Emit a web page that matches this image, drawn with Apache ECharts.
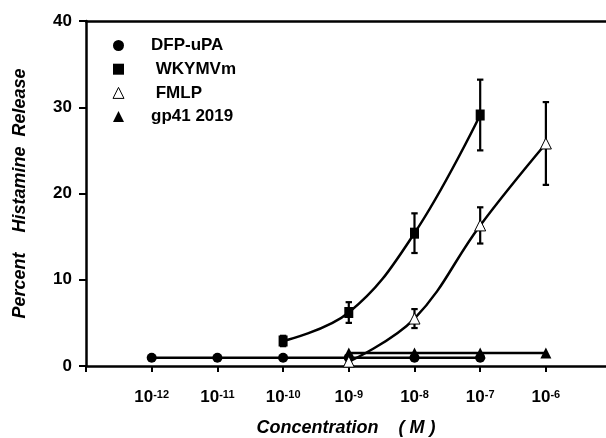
<!DOCTYPE html>
<html><head><meta charset="utf-8">
<script src="https://cdn.jsdelivr.net/npm/echarts@6/dist/echarts.min.js"></script>
<style>html,body{margin:0;padding:0;background:#fff}#c{width:606px;height:438px}</style>
</head><body><div id="c"></div>
<script>
// log10 concentration tick positions and labels
const xTickExps = [-12, -11, -10, -9, -8, -7, -6];
const yTicks = [0, 10, 20, 30, 40];

const dfpX = [-12, -11, -10, -9, -8, -7];
const dfpY = [0.95, 0.95, 0.95, 0.95, 0.95, 0.95];

const wkyX = [-10, -9, -8, -7];
const wkyY = [2.9, 6.2, 15.4, 29.1];
const wkyErr = [0.6, 1.2, 2.3, 4.1];

const fmlpX = [-9, -8, -7, -6];
const fmlpY = [0.5, 5.5, 16.3, 25.8];
const fmlpErr = [0, 1.1, 2.1, 4.8];

const gpX = [-9, -8, -7, -6];
const gpY = [1.5, 1.5, 1.5, 1.5];

const names = ['DFP-uPA', ' WKYMVm', ' FMLP', 'gp41 2019'];

const FONT = 'Arial, "Liberation Sans", sans-serif';
const zip = (xs, ys) => xs.map((x, i) => [x, ys[i]]);
const errData = (xs, ys, es) => xs.map((x, i) => [x, ys[i] - es[i], ys[i] + es[i]]).filter((d, i) => es[i] > 0);

const errSeries = (xs, ys, es) => ({
  type: 'custom',
  data: errData(xs, ys, es),
  z: 1,
  silent: true,
  renderItem: function (params, api) {
    const x = api.value(0);
    const lo = api.coord([x, api.value(1)]);
    const hi = api.coord([x, api.value(2)]);
    const w = 3.2;
    const st = { stroke: '#000', lineWidth: 2.2 };
    return {
      type: 'group',
      children: [
        { type: 'line', shape: { x1: lo[0], y1: lo[1], x2: hi[0], y2: hi[1] }, style: st },
        { type: 'line', shape: { x1: lo[0] - w, y1: lo[1], x2: lo[0] + w, y2: lo[1] }, style: st },
        { type: 'line', shape: { x1: hi[0] - w, y1: hi[1], x2: hi[0] + w, y2: hi[1] }, style: st }
      ]
    };
  }
});

const chart = echarts.init(document.getElementById('c'), null, { renderer: 'canvas' });
chart.setOption({
  animation: false,
  backgroundColor: '#fff',
  textStyle: { fontFamily: FONT },
  grid: { left: 86, top: 21, right: 0, bottom: 72, show: false, containLabel: false, outerBoundsMode: 'none' },
  legend: {
    orient: 'vertical',
    left: 112.5, top: 37, padding: 0,
    itemWidth: 11, itemHeight: 11,
    itemGap: 6.7,
    selectedMode: false,
    textStyle: { fontFamily: FONT, fontWeight: 'bold', fontSize: 17, color: '#000', lineHeight: 16, padding: [0, 0, 0, 22] },
    data: [
      { name: names[0], icon: 'circle', itemStyle: { color: '#000', borderWidth: 0 } },
      { name: names[1], icon: 'rect', itemStyle: { color: '#000', borderWidth: 0 } },
      { name: names[2], icon: 'triangle', itemStyle: { color: '#fff', borderColor: '#000', borderWidth: 1 } },
      { name: names[3], icon: 'triangle', itemStyle: { color: '#000', borderWidth: 0 } }
    ]
  },
  xAxis: [{
    type: 'value', min: -13, max: -5.085, interval: 1,
    name: 'Concentration    ( M )',
    nameLocation: 'middle', nameGap: 53,
    nameTextStyle: { fontFamily: FONT, fontWeight: 'bold', fontStyle: 'italic', fontSize: 18, color: '#000' },
    axisLine: { lineStyle: { color: '#000', width: 2.5 } },
    axisTick: { show: true, length: 6, inside: false, lineStyle: { color: '#000', width: 2 } },
    splitLine: { show: false },
    axisLabel: {
      margin: 23,
      showMaxLabel: false,
      formatter: function (v) {
        if (xTickExps.indexOf(v) < 0) return '';
        return '{b|10}{s|' + v + '}';
      },
      rich: {
        b: { fontFamily: FONT, fontWeight: 'bold', fontSize: 17, color: '#000', verticalAlign: 'bottom' },
        s: { fontFamily: FONT, fontWeight: 'bold', fontSize: 11, color: '#000', verticalAlign: 'top', padding: [0, 0, 6, 0] }
      }
    }
  }, {
    type: 'value', position: 'top', min: -13, max: -5.085,
    axisLine: { show: true, onZero: false, lineStyle: { color: '#000', width: 2.5 } },
    axisTick: { show: false }, axisLabel: { show: false }, splitLine: { show: false }
  }],
  yAxis: {
    type: 'value', min: yTicks[0], max: yTicks[yTicks.length - 1], interval: 10,
    name: 'Percent    Histamine  Release',
    nameLocation: 'middle', nameGap: 57,
    nameTextStyle: { fontFamily: FONT, fontWeight: 'bold', fontStyle: 'italic', fontSize: 18, color: '#000' },
    axisLine: { show: true, lineStyle: { color: '#000', width: 2.5 } },
    axisTick: { show: true, length: 7, inside: false, lineStyle: { color: '#000', width: 2 } },
    splitLine: { show: false },
    axisLabel: { margin: 14, fontFamily: FONT, fontWeight: 'bold', fontSize: 17, color: '#000' }
  },
  series: [
    {
      name: names[0], type: 'line', data: zip(dfpX, dfpY),
      symbol: 'circle', symbolSize: 10, z: 3,
      lineStyle: { color: '#000', width: 2.5 }, itemStyle: { color: '#000' }
    },
    {
      name: names[1], type: 'line', data: zip(wkyX, wkyY), smooth: 0.4,
      symbol: 'rect', symbolSize: [9, 11], z: 3,
      lineStyle: { color: '#000', width: 2.5 }, itemStyle: { color: '#000' }
    },
    {
      name: names[2], type: 'line', data: zip(fmlpX, fmlpY), smooth: 0.4,
      symbol: 'triangle', symbolSize: 11, z: 4,
      lineStyle: { color: '#000', width: 2.5 }, itemStyle: { color: '#fff', borderColor: '#000', borderWidth: 1 }
    },
    {
      name: names[3], type: 'line', data: zip(gpX, gpY),
      symbol: 'triangle', symbolSize: 11, z: 3,
      lineStyle: { color: '#000', width: 2.5 }, itemStyle: { color: '#000' }
    },
    errSeries(wkyX, wkyY, wkyErr),
    errSeries(fmlpX, fmlpY, fmlpErr)
  ]
});
</script>
</body></html>
